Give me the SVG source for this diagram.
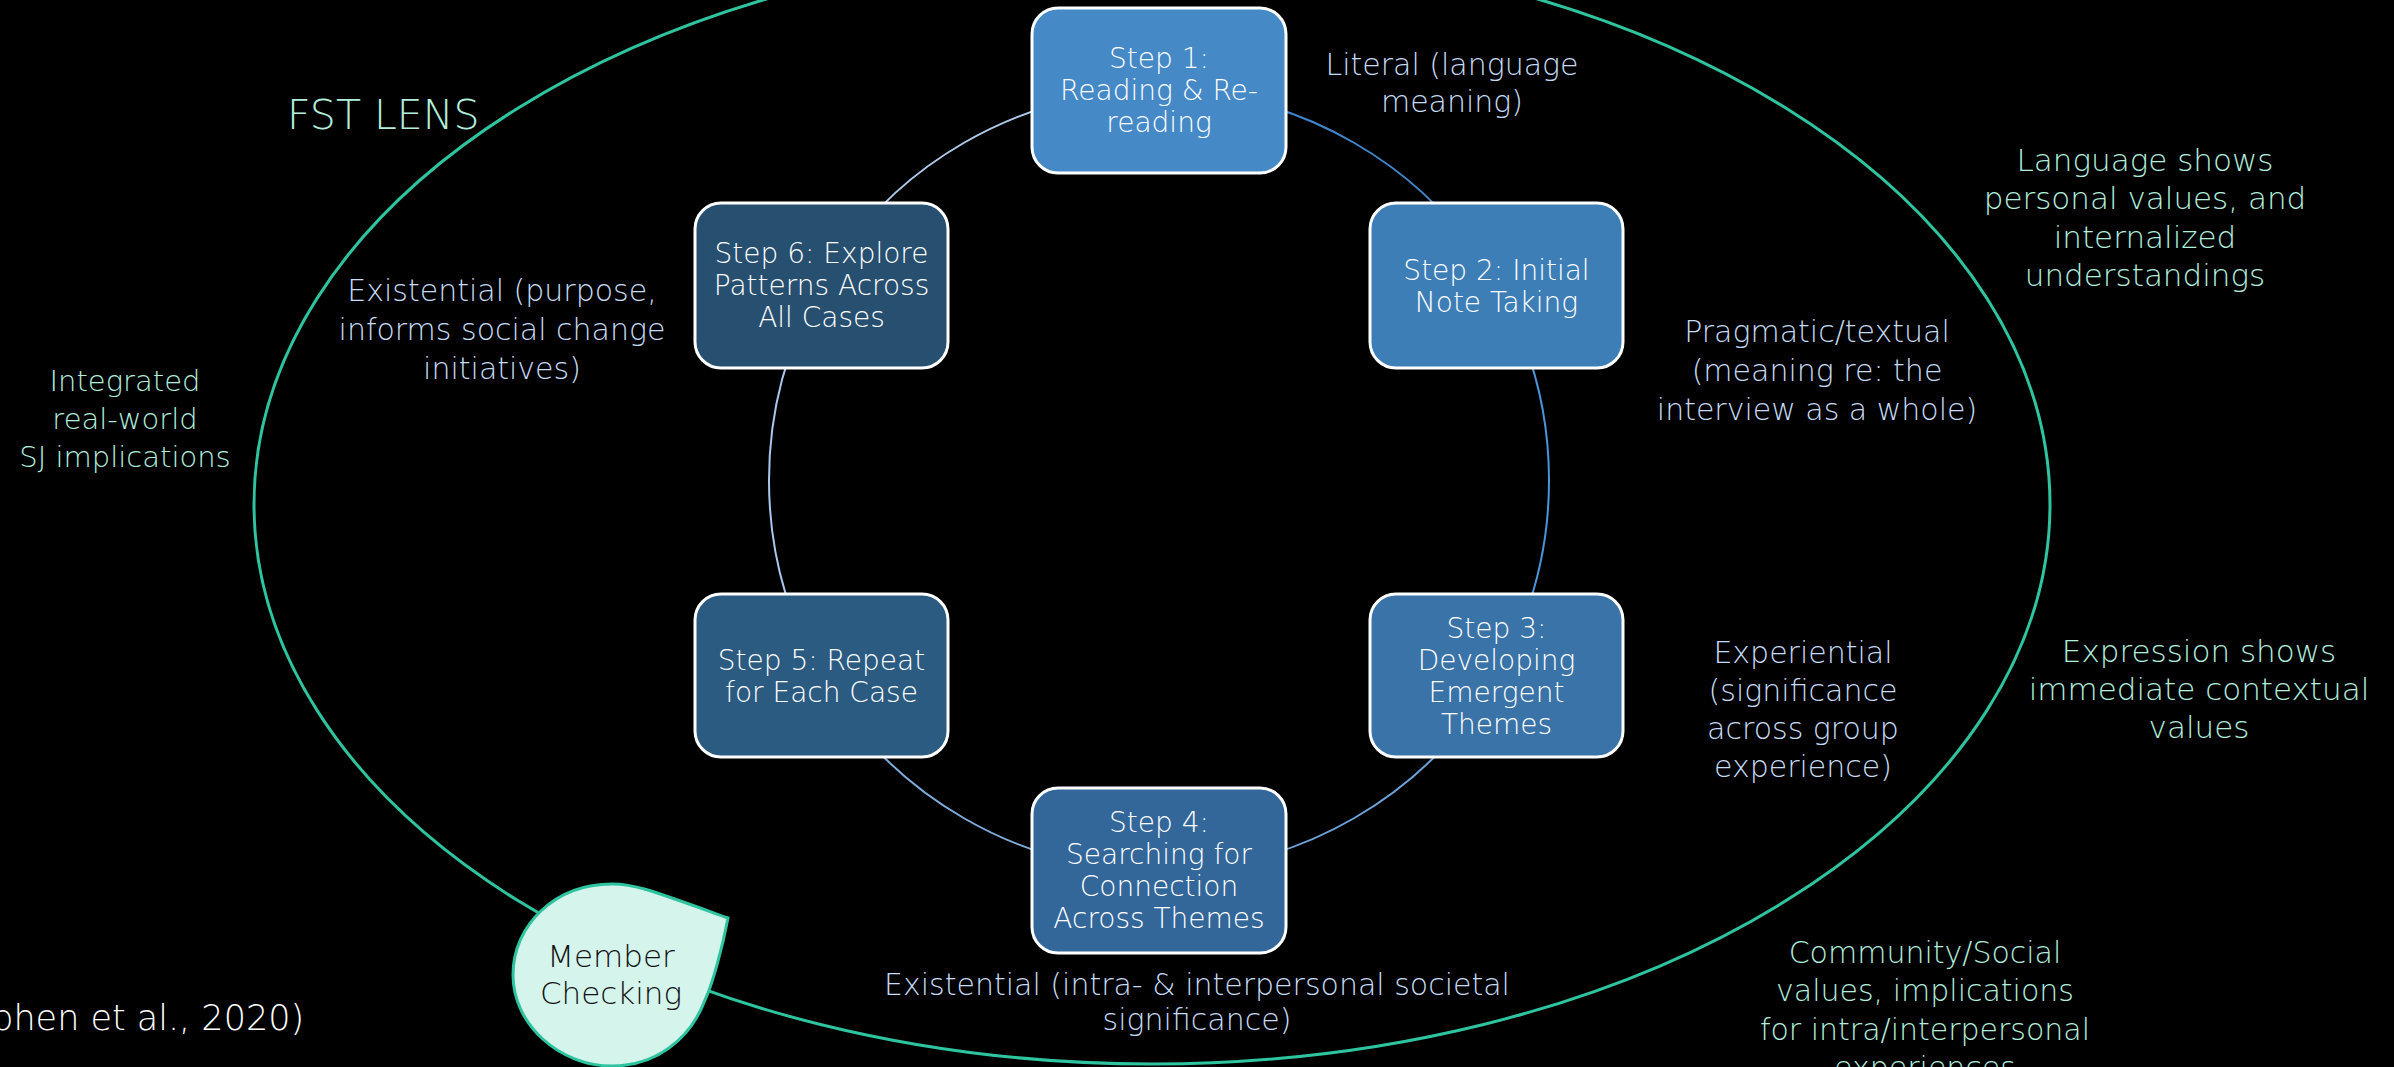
<svg xmlns="http://www.w3.org/2000/svg" width="2394" height="1067" viewBox="0 0 2394 1067">
  <style>
    text { font-family: "DejaVu Sans", "Liberation Sans", sans-serif; font-weight: 200; }
    .box { stroke: #ffffff; stroke-width: 3; }
    .bt { fill: #ffffff; font-size: 28px; text-anchor: middle; }
    .ann { fill: #C6DCF5; font-size: 30px; text-anchor: middle; }
    .mint { fill: #B2EEDC; font-size: 30px; text-anchor: middle; }
    .arc { fill: none; stroke-width: 2; }
  </style>
  <rect x="0" y="0" width="2394" height="1067" fill="#000000"/>

  <g id="lens">
    <ellipse cx="1152" cy="504.4" rx="898" ry="559.6" fill="none" stroke="#2EC4A0" stroke-width="3"/>
  </g>

  <g id="connectors">
    <path class="arc" stroke="#4088CC" d="M 1159 90.5 A 390 390 0 0 1 1496.75 285.5"/>
    <path class="arc" stroke="#4A94D8" d="M 1496.75 285.5 A 390 390 0 0 1 1496.75 675.5"/>
    <path class="arc" stroke="#6EA2DA" d="M 1496.75 675.5 A 390 390 0 0 1 1159 870.5"/>
    <path class="arc" stroke="#80ACDC" d="M 1159 870.5 A 390 390 0 0 1 821.25 675.5"/>
    <path class="arc" stroke="#A8C6EE" d="M 821.25 675.5 A 390 390 0 0 1 821.25 285.5"/>
    <path class="arc" stroke="#B0CBEA" d="M 821.25 285.5 A 390 390 0 0 1 1159 90.5"/>
  </g>

  <g id="step1">
    <rect class="box" x="1032" y="8" width="254" height="165" rx="26" fill="#4589C7"/>
    <text class="bt" x="1159" y="68">Step 1:</text>
    <text class="bt" x="1159" y="100">Reading &amp; Re-</text>
    <text class="bt" x="1159" y="132">reading</text>
  </g>
  <g id="step2">
    <rect class="box" x="1370" y="203" width="253" height="165" rx="26" fill="#3E7EB7"/>
    <text class="bt" x="1496.5" y="279.5">Step 2: Initial</text>
    <text class="bt" x="1496.5" y="311.5">Note Taking</text>
  </g>
  <g id="step3">
    <rect class="box" x="1370" y="594" width="253" height="163" rx="26" fill="#3A73A7"/>
    <text class="bt" x="1496.5" y="638">Step 3:</text>
    <text class="bt" x="1496.5" y="670">Developing</text>
    <text class="bt" x="1496.5" y="702">Emergent</text>
    <text class="bt" x="1496.5" y="734">Themes</text>
  </g>
  <g id="step4">
    <rect class="box" x="1032" y="788" width="254" height="165" rx="26" fill="#33679A"/>
    <text class="bt" x="1159" y="832">Step 4:</text>
    <text class="bt" x="1159" y="864">Searching for</text>
    <text class="bt" x="1159" y="896">Connection</text>
    <text class="bt" x="1159" y="928">Across Themes</text>
  </g>
  <g id="step5">
    <rect class="box" x="695" y="594" width="253" height="163" rx="26" fill="#2C5B82"/>
    <text class="bt" x="821.5" y="670">Step 5: Repeat</text>
    <text class="bt" x="821.5" y="702">for Each Case</text>
  </g>
  <g id="step6">
    <rect class="box" x="695" y="203" width="253" height="165" rx="26" fill="#274F70"/>
    <text class="bt" x="821.5" y="263">Step 6: Explore</text>
    <text class="bt" x="821.5" y="295">Patterns Across</text>
    <text class="bt" x="821.5" y="327">All Cases</text>
  </g>

  <g id="member-checking">
    <path d="M 728 918 C 722 950, 712 985, 705 1000 C 690 1040, 655 1066, 612 1066 C 560 1066, 513 1025, 513 975 C 513 925, 555 884, 612 884 C 635 884, 650 890, 728 918 Z" fill="#D5F4EC" stroke="#2EC4A0" stroke-width="3"/>
    <text x="611" y="967" fill="#111111" font-size="31" text-anchor="middle">Member</text>
    <text x="611" y="1004" fill="#111111" font-size="31" text-anchor="middle">Checking</text>
  </g>

  <g id="labels">
    <text x="287" y="129" fill="#B2EEDC" font-size="41">FST LENS</text>

    <text class="ann" x="1452" y="75">Literal (language</text>
    <text class="ann" x="1452" y="112">meaning)</text>

    <text class="ann" x="1817" y="342">Pragmatic/textual</text>
    <text class="ann" x="1817" y="381">(meaning re: the</text>
    <text class="ann" x="1817" y="420">interview as a whole)</text>

    <text class="ann" x="1803" y="663">Experiential</text>
    <text class="ann" x="1803" y="701">(significance</text>
    <text class="ann" x="1803" y="739">across group</text>
    <text class="ann" x="1803" y="777">experience)</text>

    <text class="ann" x="1197" y="995">Existential (intra- &amp; interpersonal societal</text>
    <text class="ann" x="1197" y="1030">significance)</text>

    <text class="ann" x="502" y="301">Existential (purpose,</text>
    <text class="ann" x="502" y="340">informs social change</text>
    <text class="ann" x="502" y="379">initiatives)</text>

    <text class="mint" x="125" y="391" style="font-size:29px">Integrated</text>
    <text class="mint" x="125" y="429" style="font-size:29px">real-world</text>
    <text class="mint" x="125" y="467" style="font-size:29px">SJ implications</text>

    <text class="mint" x="2145" y="171" style="font-size:31px">Language shows</text>
    <text class="mint" x="2145" y="209" style="font-size:31px">personal values, and</text>
    <text class="mint" x="2145" y="248" style="font-size:31px">internalized</text>
    <text class="mint" x="2145" y="286" style="font-size:31px">understandings</text>

    <text class="mint" x="2199" y="662" style="font-size:31px">Expression shows</text>
    <text class="mint" x="2199" y="700" style="font-size:31px">immediate contextual</text>
    <text class="mint" x="2199" y="738" style="font-size:31px">values</text>

    <text class="mint" x="1925" y="963">Community/Social</text>
    <text class="mint" x="1925" y="1001">values, implications</text>
    <text class="mint" x="1925" y="1040">for intra/interpersonal</text>
    <text class="mint" x="1925" y="1078">experiences</text>

    <text x="-8" y="1030" fill="#ffffff" font-size="35">ohen et al., 2020)</text>
  </g>
</svg>
